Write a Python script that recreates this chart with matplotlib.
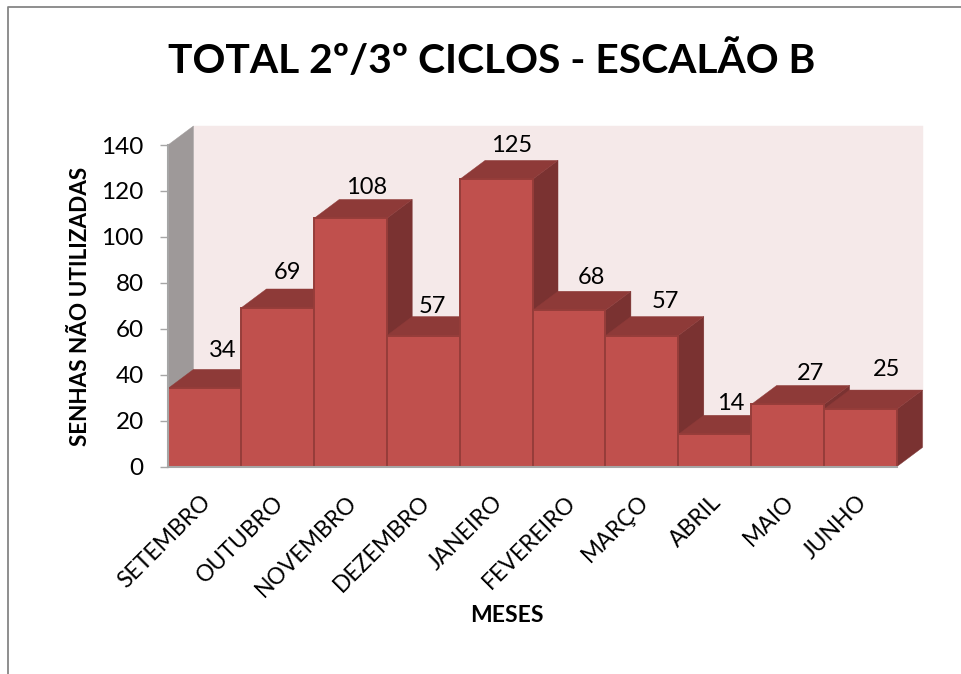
import matplotlib
matplotlib.use('Agg')
import matplotlib.pyplot as plt
from matplotlib.patches import Polygon
from matplotlib.lines import Line2D
from matplotlib.transforms import ScaledTranslation

plt.rcParams['font.family'] = ['Lato', 'DejaVu Sans']

meses = ['SETEMBRO', 'OUTUBRO', 'NOVEMBRO', 'DEZEMBRO', 'JANEIRO',
         'FEVEREIRO', 'MARÇO', 'ABRIL', 'MAIO', 'JUNHO']
senhas = [34, 69, 108, 57, 125, 68, 57, 14, 27, 25]
y_ticks = [0, 20, 40, 60, 80, 100, 120, 140]

# where excel left each data label, in pixels from the bar front top centre
label_dx = [18, 10, 16, 9, 16, 22, 24, 16, 23, 26]
label_dy = [39, 37, 32, 30, 35, 34, 35, 32, 32, 41]

W, H = 961, 674
DPI = 100

# depth of the fake 3D, in data units
DX = 0.35
DY = 8.3

FRONT = '#C0504D'
TOP = '#8E3A38'
SIDE = '#7A3231'
EDGE = '#963D3A'


def poly(ax, pts, color, edge=None, z=2):
    ax.add_patch(Polygon(pts, closed=True, facecolor=color, edgecolor=edge or color,
                         linewidth=1.4 if edge else 0.3, clip_on=False, zorder=z))


fig = plt.figure(figsize=(W / DPI, H / DPI), dpi=DPI, facecolor='white')
ax = fig.add_axes([168 / W, (H - 466.5) / H, (897 - 168) / W, (466.5 - 145) / H])
ax.set_xlim(-0.5, 9.5)
ax.set_ylim(0, 140)
ax.patch.set_alpha(0)

# chart area frame, only top and left are inside the picture
fig.add_artist(Line2D([7.5 / W, 7.5 / W, 1], [0, 1 - 6.5 / H, 1 - 6.5 / H],
                      color='#868686', linewidth=1.3))

# walls
poly(ax, [(-0.5 + DX, DY), (9.5 + DX, DY), (9.5 + DX, 140 + DY), (-0.5 + DX, 140 + DY)], '#F5E9E9', z=1)
poly(ax, [(-0.5, 0), (-0.5 + DX, DY), (-0.5 + DX, 140 + DY), (-0.5, 140)], '#9E9999', z=1)

# bars, left to right so the next one hides the side of the previous one
for i, v in enumerate(senhas):
    x0, x1 = i - 0.5, i + 0.5
    z = 2 + i
    poly(ax, [(x1, 0), (x1 + DX, DY), (x1 + DX, v + DY), (x1, v)], SIDE, z=z)
    poly(ax, [(x0, v), (x0 + DX, v + DY), (x1 + DX, v + DY), (x1, v)], TOP, z=z)
    poly(ax, [(x0, 0), (x1, 0), (x1, v), (x0, v)], FRONT, edge=EDGE, z=z)
    ax.annotate(str(v), (i, v), xytext=(label_dx[i] * 72 / DPI, (label_dy[i] - 1) * 72 / DPI),
                textcoords='offset points', ha='center', va='center',
                fontsize=17, color='black', zorder=30)

for side in ['top', 'right']:
    ax.spines[side].set_visible(False)
for side in ['left', 'bottom']:
    ax.spines[side].set_color('#A6A6A6')
    ax.spines[side].set_linewidth(1.5)
    ax.spines[side].set_zorder(20)

ax.set_yticks(y_ticks)
ax.tick_params(axis='y', length=5.5, width=1, color='#A6A6A6', labelsize=17.5, pad=12)
ax.set_xticks(range(len(meses)))
ax.set_xticklabels(meses, rotation=45, ha='right', rotation_mode='anchor', fontsize=16.5)
ax.tick_params(axis='x', length=0, pad=18)
shift = ScaledTranslation(-4 / DPI, 0, fig.dpi_scale_trans)
for lab in ax.get_xticklabels():
    lab.set_transform(lab.get_transform() + shift)

fig.text(492 / W, 1 - 60.5 / H, 'TOTAL 2º/3º CICLOS - ESCALÃO B', fontsize=29.3, fontweight='bold',
         ha='center', va='center')
fig.text(81 / W, 1 - 306 / H, 'SENHAS NÃO UTILIZADAS', fontsize=16.2, fontweight='bold',
         rotation=90, ha='center', va='center')
fig.text(507 / W, 1 - 615 / H, 'MESES', fontsize=16.5, fontweight='bold', ha='center', va='center')

fig.savefig('out.png', dpi=DPI)
